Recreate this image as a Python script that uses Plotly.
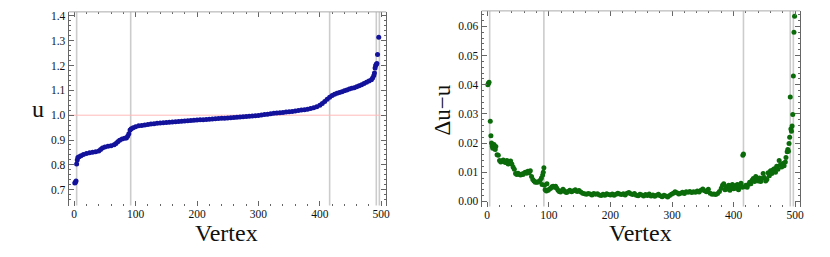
import plotly.graph_objects as go

# ---- data: left panel (sorted u per vertex) ----
u_vertex = [1, 2, 3, 4, 5, 6, 8, 11, 15, 20, 25, 30, 35, 40, 43, 46, 50, 55, 60, 65, 68, 71, 74, 78, 82, 85, 87, 89, 91, 93, 96,
            100, 105, 110, 115, 120, 125, 130, 135, 140, 145, 150, 155, 160, 165, 170, 175, 180, 185, 190, 195,
            200, 205, 210, 215, 220, 225, 230, 235, 240, 245, 250, 255, 260, 265, 270, 275, 280, 285, 290, 295,
            300, 305, 310, 315, 320, 325, 330, 335, 340, 345, 350, 355, 360, 365, 370, 375, 380, 385, 390, 395,
            400, 404, 408, 412, 416, 420, 424, 428, 432, 436, 440, 444, 448, 452, 456, 460, 464, 468, 472, 476,
            480, 484, 486, 488, 489, 490, 491, 492, 493, 494, 496]
u_values = [0.727, 0.730, 0.735, 0.803, 0.820, 0.830, 0.833, 0.837, 0.842, 0.846, 0.849, 0.851, 0.853, 0.856, 0.862, 0.868,
            0.872, 0.875, 0.877, 0.881, 0.886, 0.893, 0.899, 0.904, 0.907, 0.908, 0.915, 0.925, 0.940, 0.945, 0.949,
            0.953, 0.957, 0.959, 0.961, 0.963, 0.965, 0.966, 0.968, 0.969, 0.970, 0.971, 0.972, 0.973, 0.974, 0.975,
            0.976, 0.977, 0.978, 0.979, 0.980, 0.981, 0.982, 0.982, 0.983, 0.984, 0.985, 0.986, 0.987, 0.988, 0.988,
            0.989, 0.990, 0.991, 0.992, 0.993, 0.994, 0.995, 0.996, 0.997, 0.998, 0.999, 1.001, 1.003, 1.004, 1.006,
            1.008, 1.009, 1.010, 1.011, 1.013, 1.014, 1.015, 1.017, 1.019, 1.021, 1.022, 1.024, 1.027, 1.030, 1.034,
            1.040, 1.047, 1.055, 1.064, 1.072, 1.079, 1.084, 1.088, 1.091, 1.094, 1.098, 1.101, 1.105, 1.108, 1.111,
            1.115, 1.119, 1.123, 1.128, 1.133, 1.138, 1.143, 1.150, 1.160, 1.170, 1.190, 1.200, 1.205, 1.208, 1.244, 1.314]

# ---- data: right panel (Δu − u per vertex) ----
d_vertex = [1, 2, 3, 5, 6, 7, 8, 9, 11, 13, 14, 16, 18, 20, 22, 24, 26, 28, 30, 32, 34, 36, 38, 40, 42, 44, 46, 48, 50,
            52, 54, 56, 58, 60, 62, 64, 66, 68, 70, 72, 74, 76, 78, 80, 82, 84, 86, 88, 89, 90, 91, 92, 93, 94, 96, 97,
            99, 101, 103, 105, 107, 109, 111, 113, 115, 117, 119, 121, 123, 125, 127, 129, 131, 134, 137, 140, 143, 146,
            149, 152, 155, 158, 161, 164, 167, 170, 173, 176, 179, 182, 185, 188, 191, 194, 197, 200, 203, 206, 209,
            212, 215, 218, 221, 224, 227, 230, 233, 236, 239, 242, 245, 248, 251, 254, 257, 260, 263, 266, 269, 272,
            275, 278, 281, 284, 287, 290, 293, 296, 299, 302, 305, 308, 311, 314, 317, 320, 323, 326, 329, 332, 335,
            338, 341, 344, 347, 350, 353, 356, 359, 362, 365, 368, 371, 374, 377, 380, 382, 384, 386, 388, 390, 392,
            394, 396, 398, 400, 402, 404, 406, 408, 410, 412, 414, 415, 416, 418, 420, 422, 424, 426, 428, 430, 432,
            434, 436, 438, 440, 442, 444, 446, 448, 450, 452, 454, 456, 458, 460, 462, 464, 466, 468, 470, 472, 474,
            476, 478, 480, 482, 484, 485, 487, 488, 489, 490, 491, 492, 493, 494, 495, 496, 497, 498, 499]
d_values = [0.0400, 0.0405, 0.0408, 0.0275, 0.0225, 0.0200, 0.0190, 0.0182, 0.0195, 0.0178, 0.0188, 0.0160, 0.0158,
            0.0140, 0.0135, 0.0138, 0.0142, 0.0135, 0.0133, 0.0140, 0.0128, 0.0132, 0.0138, 0.0128, 0.0118, 0.0110,
            0.0095, 0.0092, 0.0096, 0.0093, 0.0090, 0.0094, 0.0092, 0.0097, 0.0100, 0.0096, 0.0103, 0.0098, 0.0105,
            0.0085, 0.0075, 0.0070, 0.0065, 0.0066, 0.0065, 0.0068, 0.0072, 0.0080, 0.0058, 0.0090, 0.0100, 0.0115,
            0.0055, 0.0040, 0.0035, 0.0060, 0.0038, 0.0042, 0.0045, 0.0050, 0.0052, 0.0048, 0.0052, 0.0045, 0.0038,
            0.0034, 0.0032, 0.0036, 0.0041, 0.0036, 0.0032, 0.0030, 0.0034, 0.0038, 0.0033, 0.0036, 0.0040, 0.0034,
            0.0037, 0.0032, 0.0028, 0.0026, 0.0024, 0.0027, 0.0025, 0.0022, 0.0027, 0.0024, 0.0026, 0.0022, 0.0020,
            0.0024, 0.0021, 0.0026, 0.0023, 0.0022, 0.0025, 0.0021, 0.0024, 0.0028, 0.0025, 0.0023, 0.0026, 0.0022,
            0.0028, 0.0030, 0.0026, 0.0023, 0.0027, 0.0021, 0.0019, 0.0024, 0.0022, 0.0018, 0.0023, 0.0020, 0.0025,
            0.0018, 0.0022, 0.0017, 0.0021, 0.0024, 0.0019, 0.0016, 0.0021, 0.0018, 0.0015, 0.0020, 0.0024, 0.0028,
            0.0033, 0.0029, 0.0025, 0.0028, 0.0031, 0.0027, 0.0033, 0.0031, 0.0034, 0.0030, 0.0033, 0.0031, 0.0035,
            0.0032, 0.0038, 0.0042, 0.0036, 0.0033, 0.0041, 0.0028, 0.0024, 0.0025, 0.0023, 0.0027, 0.0034, 0.0045,
            0.0055, 0.0060, 0.0040, 0.0050, 0.0042, 0.0055, 0.0038, 0.0048, 0.0058, 0.0043, 0.0053, 0.0045, 0.0058,
            0.0040, 0.0050, 0.0062, 0.0048, 0.0158, 0.0162, 0.0050, 0.0055, 0.0048, 0.0058, 0.0065, 0.0060, 0.0072,
            0.0078, 0.0068, 0.0085, 0.0075, 0.0070, 0.0080, 0.0068, 0.0078, 0.0095, 0.0082, 0.0070, 0.0075, 0.0098,
            0.0088, 0.0105, 0.0095, 0.0108, 0.0112, 0.0100, 0.0120, 0.0110, 0.0140, 0.0125, 0.0118, 0.0130, 0.0122,
            0.0135, 0.0150, 0.0170, 0.0178, 0.0172, 0.0198, 0.0220, 0.0358, 0.0248, 0.0240, 0.0258, 0.0298, 0.0430,
            0.0580, 0.0635]

marked_vertices = [4, 92, 416, 492, 497]
reference_u = 1.0
x_ticks = [0, 100, 200, 300, 400, 500]
u_ticks = [0.7, 0.8, 0.9, 1.0, 1.1, 1.2, 1.3, 1.4]
d_ticks = [0.00, 0.01, 0.02, 0.03, 0.04, 0.05, 0.06]

W, H = 830, 257
FONT = "Liberation Serif"
AX = "#666666"

fig = go.Figure()
fig.add_trace(go.Scatter(x=u_vertex, y=u_values, mode="markers", xaxis="x", yaxis="y",
                         marker=dict(color="#12129c", size=5), showlegend=False, hoverinfo="skip"))
fig.add_trace(go.Scatter(x=d_vertex, y=d_values, mode="markers", xaxis="x2", yaxis="y2",
                         marker=dict(color="#0b6b0b", size=5), showlegend=False, hoverinfo="skip"))

shapes = []
for xr, yr in (("x", "y"), ("x2", "y2")):
    for v in marked_vertices:
        shapes.append(dict(type="line", xref=xr, yref=yr + " domain", x0=v, x1=v, y0=0, y1=1,
                           line=dict(color="#cccccc", width=1.6), layer="below"))
    # faint top frame line
    shapes.append(dict(type="line", xref=xr + " domain", yref=yr + " domain", x0=0, x1=1, y0=1, y1=1,
                       line=dict(color="#aaaaaa", width=1), layer="above"))
shapes.append(dict(type="line", xref="x", yref="y", x0=-9, x1=499, y0=reference_u, y1=reference_u,
                   line=dict(color="#ffb8b8", width=1), layer="below"))


def xaxis(dom, anchor):
    return dict(domain=dom, anchor=anchor, range=[-9, 508], tickvals=x_ticks, ticks="inside", ticklen=5,
                tickcolor=AX, showline=False, mirror="allticks",
                showgrid=False, zeroline=False, tickfont=dict(family=FONT, size=11.5, color="#111"),
                minor=dict(dtick=20, tick0=0, ticks="inside", ticklen=2, tickcolor=AX, showgrid=False))


def yaxis(dom, rng, ticks, fmt, dminor, anchor):
    return dict(domain=dom, range=rng, tickvals=ticks, tickformat=fmt, ticks="inside", ticklen=5,
                tickcolor=AX, showline=True, linecolor=AX, linewidth=1, mirror="allticks",
                showgrid=False, zeroline=False, anchor=anchor, tickfont=dict(family=FONT, size=11.5, color="#111"),
                minor=dict(dtick=dminor, tick0=0, ticks="inside", ticklen=2, tickcolor=AX, showgrid=False))


fig.update_layout(
    width=W, height=H, margin=dict(l=0, r=0, t=0, b=0),
    paper_bgcolor="white", plot_bgcolor="white",
    xaxis=xaxis([69 / W, 388 / W], "y"),
    yaxis=yaxis([(H - 206) / H, (H - 10) / H], [0.636, 1.416], u_ticks, ".1f", 0.02, "x"),
    xaxis2=xaxis([484 / W, 804 / W], "y2"),
    yaxis2=yaxis([(H - 207) / H, (H - 9) / H], [-0.0018, 0.0653], d_ticks, ".2f", 0.002, "x2"),
    shapes=shapes,
    annotations=[
        dict(text="Vertex", x=228 / W, y=(H - 234) / H, xref="paper", yref="paper", showarrow=False,
             font=dict(family=FONT, size=24, color="#111"), xanchor="center", yanchor="middle"),
        dict(text="Vertex", x=644 / W, y=(H - 234) / H, xref="paper", yref="paper", showarrow=False,
             font=dict(family=FONT, size=24, color="#111"), xanchor="center", yanchor="middle"),
        dict(text="u", x=38 / W, y=(H - 108) / H, xref="paper", yref="paper", showarrow=False,
             font=dict(family=FONT, size=24, color="#111"), xanchor="center", yanchor="middle"),
        dict(text="Δu−u", x=445 / W, y=(H - 109) / H, xref="paper", yref="paper", showarrow=False,
             textangle=-90, font=dict(family=FONT, size=23, color="#111"), xanchor="center", yanchor="middle"),
    ],
)

fig.write_html("out.html", config={"displayModeBar": False, "staticPlot": True},
               post_script="document.body.style.margin='0';document.body.style.overflow='hidden';")
